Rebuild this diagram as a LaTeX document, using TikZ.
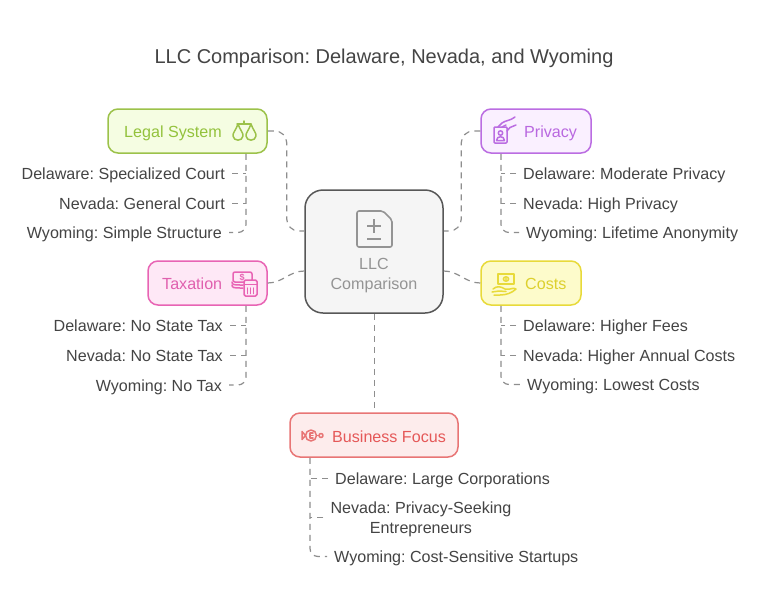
\documentclass[tikz,border=0pt]{standalone}
\usepackage{fontspec}
\setmainfont{Liberation Sans}
\usetikzlibrary{calc}
\definecolor{ink}{HTML}{444444}
\definecolor{dashc}{HTML}{8E8E8E}
\definecolor{legalC}{HTML}{9CC24A}\definecolor{legalF}{HTML}{F5FDE2}\definecolor{legalT}{HTML}{93C23C}
\definecolor{privC}{HTML}{BB6DE2}\definecolor{privF}{HTML}{FAF0FF}\definecolor{privT}{HTML}{B968E0}
\definecolor{taxC}{HTML}{E864B4}\definecolor{taxF}{HTML}{FEE8F6}\definecolor{taxT}{HTML}{E060AE}
\definecolor{costC}{HTML}{E8DA3A}\definecolor{costF}{HTML}{FDFBCB}\definecolor{costT}{HTML}{DDD02E}
\definecolor{bizC}{HTML}{E87575}\definecolor{bizF}{HTML}{FDECEC}\definecolor{bizT}{HTML}{E55858}
\tikzset{
  x=1pt,y=-1pt,
  box/.style={draw,line width=1.5pt,rounded corners=10pt,inner sep=0pt},
  lab/.style={font=\frenchspacing\fontsize{16.1}{20}\selectfont,inner sep=0pt,text height=12pt,text depth=0pt},
  leaf/.style={font=\frenchspacing\fontsize{16.1}{20}\selectfont,text=ink,inner sep=7pt,text height=12pt,text depth=0pt},
  leafwrap/.style={font=\frenchspacing\fontsize{16.1}{20}\selectfont,text=ink,inner sep=7pt,align=center},
  conn/.style={draw=dashc,line width=1.2pt,dash pattern=on 6pt off 5pt},
  ico/.style={line width=1.5pt,line cap=round,line join=round,fill=none},
}
\begin{document}
\begin{tikzpicture}
\useasboundingbox[fill=white] (0,0) rectangle (768,606);
\node[font=\frenchspacing\fontsize{20}{24}\selectfont,text=ink,inner sep=0pt] (title) at (384,58) {LLC Comparison: Delaware, Nevada, and Wyoming};

% main boxes
\node[box,draw=ink!90,fill=black!4,rounded corners=18pt,minimum width=138pt,minimum height=123pt] (center) at (374,251.5) {};
\node[box,draw=legalC,fill=legalF,minimum width=159pt,minimum height=44pt] (legal) at (187.5,131) {};
\node[box,draw=privC,fill=privF,minimum width=110pt,minimum height=44pt] (priv) at (536,131) {};
\node[box,draw=taxC,fill=taxF,minimum width=119pt,minimum height=44pt] (tax) at (207.5,283) {};
\node[box,draw=costC,fill=costF,minimum width=100pt,minimum height=44pt] (cost) at (531,283) {};
\node[box,draw=bizC,fill=bizF,minimum width=168pt,minimum height=44pt] (biz) at (374,435) {};

% box labels
\node[lab,anchor=west,text=legalT] (legalL) at (124,131.5) {Legal System};
\node[lab,anchor=west,text=privT] (privL) at (524,131.5) {Privacy};
\node[lab,anchor=west,text=taxT] (taxL) at (162,283.5) {Taxation};
\node[lab,anchor=west,text=costT] (costL) at (525,283.5) {Costs};
\node[lab,anchor=west,text=bizT] (bizL) at (332,436) {Business Focus};
\node[font=\frenchspacing\fontsize{16.1}{20}\selectfont,text=black!42,align=center,inner sep=0pt] (centerL) at (374,275.5) {LLC\\Comparison};

% leaves
\node[leaf,anchor=east] (l1) at (232,173.5) {Delaware: Specialized Court};
\node[leaf,anchor=east] (l2) at (232,203.5) {Nevada: General Court};
\node[leaf,anchor=east] (l3) at (229,232.5) {Wyoming: Simple Structure};
\node[leaf,anchor=west] (p1) at (516,173.5) {Delaware: Moderate Privacy};
\node[leaf,anchor=west] (p2) at (516,203.5) {Nevada: High Privacy};
\node[leaf,anchor=west] (p3) at (519,232.5) {Wyoming: Lifetime Anonymity};
\node[leaf,anchor=east] (t1) at (230,325.5) {Delaware: No State Tax};
\node[leaf,anchor=east] (t2) at (230,355.5) {Nevada: No State Tax};
\node[leaf,anchor=east] (t3) at (229,385) {Wyoming: No Tax};
\node[leaf,anchor=west] (c1) at (516,325.5) {Delaware: Higher Fees};
\node[leaf,anchor=west] (c2) at (516,355.5) {Nevada: Higher Annual Costs};
\node[leaf,anchor=west] (c3) at (520,384.5) {Wyoming: Lowest Costs};
\node[leaf,anchor=west] (b1) at (328,478.5) {Delaware: Large Corporations};
\node[leafwrap] (b2) at (421,519) {Nevada: Privacy-Seeking\\Entrepreneurs};
\node[leaf,anchor=west] (b3) at (327,556.5) {Wyoming: Cost-Sensitive Startups};

% centre connectors
\draw[conn,rounded corners=12pt] (legal.east) -- ++(19,0) -- ++(0,100) -- ([yshift=20.5pt]center.west);
\draw[conn,rounded corners=12pt] (priv.west) -- ++(-19,0) -- ++(0,100) -- ([yshift=20.5pt]center.east);
\draw[conn] (tax.east) to[out=0,in=180] ([yshift=-19.5pt]center.west);
\draw[conn] ([yshift=-19.5pt]center.east) to[out=0,in=180] (cost.west);
\draw[conn] ([xshift=.5pt]center.south) -- ([xshift=.5pt]biz.north);

% trunks
\coordinate (tl) at ([xshift=58.5pt]legal.south);
\coordinate (tp) at ([xshift=-35pt]priv.south);
\coordinate (tt) at ([xshift=38.5pt]tax.south);
\coordinate (tc) at ([xshift=-30pt]cost.south);
\coordinate (tb) at ([xshift=-64pt]biz.south);
\draw[conn,rounded corners=8pt] (tl) |- (l3.east);
\draw[conn,rounded corners=8pt] (tp) |- (p3.west);
\draw[conn,rounded corners=8pt] (tt) |- (t3.east);
\draw[conn,rounded corners=8pt] (tc) |- (c3.west);
\draw[conn,rounded corners=8pt] (tb) |- (b3.west);
\draw[conn] (l1.east) -- (l1.east -| tl);
\draw[conn] (l2.east) -- (l2.east -| tl);
\draw[conn] (p1.west) -- (p1.west -| tp);
\draw[conn] (p2.west) -- (p2.west -| tp);
\draw[conn] (t1.east) -- (t1.east -| tt);
\draw[conn] (t2.east) -- (t2.east -| tt);
\draw[conn] (c1.west) -- (c1.west -| tc);
\draw[conn] (c2.west) -- (c2.west -| tc);
\draw[conn] (b1.west) -- (b1.west -| tb);
\draw[conn] ([yshift=1.5pt]b2.west) -- ([yshift=1.5pt]b2.west -| tb);

% centre icon: document with plus / minus
\draw[draw=black!42,line width=1.6pt,rounded corners=2pt,line join=round] (357,211) -- (383,211) -- (392,220) -- (392,247) -- (357,247) -- cycle;
\draw[draw=black!42,line width=1.6pt] (374,219) -- (374,233) (367,226) -- (381,226) (367,239) -- (381,239);

% scales
\begin{scope}[ico,draw=legalC]
\draw (244,121) -- (244,124) (237,124) -- (251,124);
\draw (238,124) .. controls (236,130) and (232.5,133) .. (233,136) .. controls (233.5,141.5) and (242.5,141.5) .. (243,136) .. controls (243.5,133) and (240,130) .. (238,124) -- cycle;
\draw (251,124) .. controls (249,130) and (245.5,133) .. (246,136) .. controls (246.5,141.5) and (255.5,141.5) .. (256,136) .. controls (256.5,133) and (253,130) .. (251,124) -- cycle;
\end{scope}

% privacy: hand with id card
\begin{scope}[ico,draw=privC]
\draw[rounded corners=1pt] (494,127) rectangle (507,143);
\draw (500.5,133) circle (2.2pt);
\draw (496.5,140.5) .. controls (496.5,135.5) and (504.5,135.5) .. (504.5,140.5) -- cycle;
\draw (498,127) -- (502,123) .. controls (506,120) and (510,121) .. (515,117);
\draw (502,127) -- (506,125);
\draw (507,131) -- (510,127.5) -- (516,125);
\end{scope}

% taxation: cash and calculator
\begin{scope}[ico,draw=taxC]
\draw[rounded corners=2pt] (233,272) rectangle (252,282);
\draw (232,282) .. controls (232,285) and (234,285) .. (243,285);
\draw (232,285) .. controls (232,288) and (234,288) .. (243,288);
\node[font=\fontsize{9}{9}\selectfont\bfseries,text=taxC,inner sep=0pt] (taxD) at (242,277) {\$};
\draw[fill=taxF,rounded corners=1.5pt] (244,280) rectangle (257,296);
\draw (244,284.5) -- (257,284.5);
\draw (247.5,288) -- (247.5,293.5) (250.5,288) -- (250.5,293.5) (253.5,288) -- (253.5,293.5);
\end{scope}

% costs: banknote over hand
\begin{scope}[ico,draw=costC]
\draw (498,274) rectangle (514,284);
\draw (506,279) ellipse (2.6pt and 2.2pt);
\fill[costC] (506,279) circle (1.2pt);
\draw (493,289) .. controls (497,285.5) and (501,286.5) .. (505,289) -- (510,289) .. controls (513,288) and (515,288) .. (516,289) .. controls (512,293) and (506,295) .. (500,295) -- (494,295);
\draw (492,292) -- (499,291) -- (506,291.5);
\end{scope}

% business focus: fish-like target
\begin{scope}[ico,draw=bizC]
\draw (311,435.5) circle (5.5pt);
\draw (305.5,435.5) -- (302,431.5) -- (302,439.5) -- cycle;
\draw (321,435.5) circle (2pt);
\draw (316.5,435.5) -- (319,435.5);
\draw (310,433) -- (310,438) (310,433) -- (313,433) (310,435.5) -- (313,435.5) (310,438) -- (313,438);
\end{scope}
\end{tikzpicture}
\end{document}
